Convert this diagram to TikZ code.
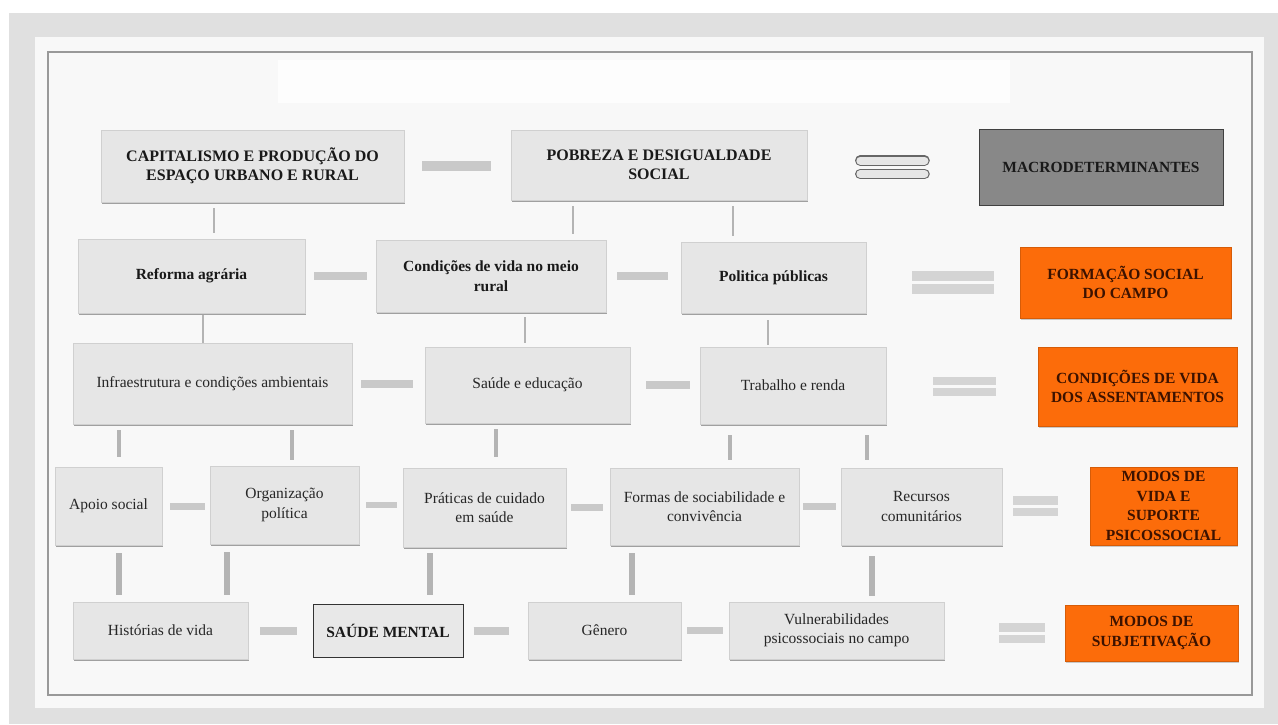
\documentclass[tikz,border=0pt]{standalone}
\usepackage{fontspec}
\setmainfont{Liberation Serif}
\usepackage{xcolor}
\usepackage{tikz}
\usetikzlibrary{shapes,positioning,shadows}

\definecolor{pagegray}{HTML}{E0E0E0}
\definecolor{panelbg}{HTML}{F8F8F8}
\definecolor{boxfill}{HTML}{E6E6E6}
\definecolor{boxline}{HTML}{D0D0D0}
\definecolor{barcol}{HTML}{C9C9C9}
\definecolor{vcol}{HTML}{B4B4B4}
\definecolor{orangebox}{HTML}{FC6C0A}
\definecolor{orangetxt}{HTML}{3C1200}
\definecolor{macrofill}{HTML}{888888}
\definecolor{txtgray}{HTML}{262626}

\tikzset{dims/.style n args={2}{minimum width=#1pt, minimum height=#2pt}}

\begin{document}
\begin{tikzpicture}[
    x=1pt, y=-1pt,
    block/.style={rectangle, draw=boxline, line width=0.6pt, fill=boxfill, align=center, inner sep=0pt, text=txtgray, font=\fontsize{15.5}{19.5}\selectfont, drop shadow={shadow xshift=0.8pt, shadow yshift=-2.4pt, fill=black!65, opacity=0.55}},
    boldblock/.style={block, text=black!90, font=\fontsize{15.5}{19.5}\selectfont\bfseries},
    topblock/.style={boldblock, font=\fontsize{16}{19}\selectfont\bfseries},
    mentalbox/.style={rectangle, draw=black!80, line width=1pt, fill=boxfill!90!white, align=center, inner sep=0pt, text=black!90, font=\fontsize{15.5}{19.5}\selectfont\bfseries},
    levelbox/.style={rectangle, draw=orangebox!85!black, line width=0.4pt, fill=orangebox, align=center, inner sep=0pt, text=orangetxt, font=\fontsize{15.5}{19.5}\selectfont\bfseries, drop shadow={shadow xshift=0.8pt, shadow yshift=-2pt, fill=black!50, opacity=0.4}},
    macrobox/.style={rectangle, draw=black!75, line width=1pt, fill=macrofill, align=center, inner sep=0pt, text=black!90, font=\fontsize{15.5}{19.5}\selectfont\bfseries},
    hbar/.style={draw=barcol, line width=8pt},
    vline/.style={draw=vcol, line width=2.8pt, shorten <=6pt, shorten >=6pt},
    vthick/.style={draw=vcol, line width=5.5pt, shorten <=8pt, shorten >=7pt},
    eqbar/.style={draw=barcol!80, line width=8.5pt, double=panelbg, double distance=3pt},
    eqoutline/.style={draw=black!60, line width=1.3pt, double=boxfill, double distance=8pt, line cap=round}
]

% page and frame
\useasboundingbox (0,0) rectangle (1278,724);
\fill[white] (0,0) rectangle (1278,724);
\fill[pagegray] (9,13) rectangle (1278,724);
\fill[panelbg] (35,37) rectangle (1264,708);
\draw[black!40, line width=1.3pt] (48,52) rectangle (1252,695);
\fill[white, opacity=0.8] (278,60) rectangle (1010,103);

% macro level
\node[topblock, dims={303}{72}] (capital) at (252.5,166) {CAPITALISMO E PRODUÇÃO DO\\ESPAÇO URBANO E RURAL};
\node[topblock, dims={296}{70}] (pobreza) at (659,165) {POBREZA E DESIGUALDADE\\SOCIAL};
\node[macrobox, dims={244}{76}] (macro) at (1101,167) {MACRODETERMINANTES};

% formacao social
\node[boldblock, dims={227}{74}] (reforma) at (191.5,276) {Reforma agrária};
\node[boldblock, dims={230}{72}] (condicoes) at (491,276) {Condições de vida no meio\\rural};
\node[boldblock, dims={185}{71}] (politica) at (773.5,277.5) {Politica públicas};
\node[levelbox, dims={211}{71}] (formacao) at (1125.5,282.5) {FORMAÇÃO SOCIAL\\DO CAMPO};

% condicoes de vida
\node[block, dims={279}{81}] (infra) at (212.5,383.5) {Infraestrutura e condições ambientais};
\node[block, dims={205}{76}] (saude) at (527.5,385) {Saúde e educação};
\node[block, dims={186}{77}] (trabalho) at (793,385.5) {Trabalho e renda};
\node[levelbox, dims={199}{79}] (assent) at (1137.5,386.5) {CONDIÇÕES DE VIDA\\DOS ASSENTAMENTOS};

% modos de vida
\node[block, dims={107}{78}] (apoio) at (108.5,506) {Apoio social};
\node[block, dims={149}{78}] (organizacao) at (284.5,505) {Organização\\política};
\node[block, dims={163}{79}] (praticas) at (484.5,507.5) {Práticas de cuidado\\em saúde};
\node[block, dims={189}{77}] (formas) at (704.5,506.5) {Formas de sociabilidade e\\convivência};
\node[block, dims={161}{77}] (recursos) at (921.5,506.5) {Recursos\\comunitários};
\node[levelbox, dims={147}{78}] (modosvida) at (1163.5,506) {MODOS DE\\VIDA E\\SUPORTE\\PSICOSSOCIAL};

% subjetivacao
\node[block, dims={175}{57}] (historias) at (160.5,630.5) {Histórias de vida};
\node[mentalbox, dims={150}{53}] (mental) at (388,630.5) {SAÚDE MENTAL};
\node[block, dims={153}{57}] (genero) at (604.5,630.5) {Gênero};
\node[block, dims={215}{57}] (vulner) at (836.5,630.5) {Vulnerabilidades\\psicossociais no campo};
\node[levelbox, dims={173}{56}] (subjet) at (1151.5,633) {MODOS DE\\SUBJETIVAÇÃO};

% links inside rows
\draw[hbar, line width=10pt, shorten <=18pt, shorten >=20pt] (capital.east) -- (capital.east -| pobreza.west);
\draw[hbar, shorten <=9pt, shorten >=9pt] (reforma.east) -- (reforma.east -| condicoes.west);
\draw[hbar, shorten <=11pt, shorten >=13pt] (condicoes.east) -- (condicoes.east -| politica.west);
\draw[hbar, shorten <=9pt, shorten >=12pt] (infra.east) -- (infra.east -| saude.west);
\draw[hbar, shorten <=16pt, shorten >=10pt] (saude.east) -- (saude.east -| trabalho.west);
\draw[hbar, line width=7pt, shorten <=8pt, shorten >=5pt] (apoio.east) -- (apoio.east -| organizacao.west);
\draw[hbar, line width=6.5pt, shorten <=7pt, shorten >=6pt] (organizacao.east) -- (organizacao.east -| praticas.west);
\draw[hbar, line width=6.5pt, shorten <=5pt, shorten >=7pt] (praticas.east) -- (praticas.east -| formas.west);
\draw[hbar, line width=7pt, shorten <=4pt, shorten >=5pt] (formas.east) -- (formas.east -| recursos.west);
\draw[hbar, shorten <=12pt, shorten >=16pt] (historias.east) -- (historias.east -| mental.west);
\draw[hbar, shorten <=10pt, shorten >=19pt] (mental.east) -- (mental.east -| genero.west);
\draw[hbar, line width=7pt, shorten <=6pt, shorten >=6pt] (genero.east) -- (genero.east -| vulner.west);

% links between rows
\draw[vline] (capital.south -| 214,0) -- (reforma.north -| 214,0);
\draw[vline] (pobreza.south -| 573,0) -- (condicoes.north -| 573,0);
\draw[vline] (pobreza.south -| 733,0) -- (politica.north -| 733,0);
\draw[vline, shorten <=2pt, shorten >=0pt] (reforma.south -| 203,0) -- (infra.north -| 203,0);
\draw[vline, shorten <=5pt, shorten >=4pt] (condicoes.south -| 525,0) -- (saude.north -| 525,0);
\draw[vline, shorten <=7pt, shorten >=2pt] (politica.south -| 768,0) -- (trabalho.north -| 768,0);
\draw[vline, line width=3.2pt, shorten >=10pt] (infra.south -| 119,0) -- (apoio.north -| 119,0);
\draw[vline, line width=3.2pt] (infra.south -| 292,0) -- (organizacao.north -| 292,0);
\draw[vline, line width=3.2pt, shorten >=11pt] (saude.south -| 496,0) -- (praticas.north -| 496,0);
\draw[vline, line width=3.2pt, shorten <=11pt, shorten >=8pt] (trabalho.south -| 730,0) -- (formas.north -| 730,0);
\draw[vline, line width=3.2pt, shorten <=11pt, shorten >=8pt] (trabalho.south -| 867,0) -- (recursos.north -| 867,0);
\draw[vthick] (apoio.south -| 119,0) -- (historias.north -| 119,0);
\draw[vthick] (organizacao.south -| 227,0) -- (historias.north -| 227,0);
\draw[vthick, shorten <=6pt, shorten >=9pt] (praticas.south -| 430,0) -- (mental.north -| 430,0);
\draw[vthick] (formas.south -| 632,0) -- (genero.north -| 632,0);
\draw[vthick, shorten <=11pt, shorten >=6pt] (recursos.south -| 872,0) -- (vulner.north -| 872,0);

% equal signs to the levels
\draw[eqoutline, transform canvas={yshift=6.5pt}, shorten <=53pt, shorten >=54pt] (macro.west -| pobreza.east) -- (macro.west);
\draw[eqoutline, transform canvas={yshift=-7pt}, shorten <=53pt, shorten >=54pt] (macro.west -| pobreza.east) -- (macro.west);
\draw[eqbar, line width=10pt, shorten <=46pt, shorten >=26pt] (formacao.west -| politica.east) -- (formacao.west);
\draw[eqbar, line width=8pt, shorten <=47pt, shorten >=42pt] (assent.west -| trabalho.east) -- (assent.west);
\draw[eqbar, shorten <=11pt, shorten >=32pt] (modosvida.west -| recursos.east) -- (modosvida.west);
\draw[eqbar, shorten <=55pt, shorten >=20pt] (subjet.west -| vulner.east) -- (subjet.west);

\end{tikzpicture}
\end{document}
